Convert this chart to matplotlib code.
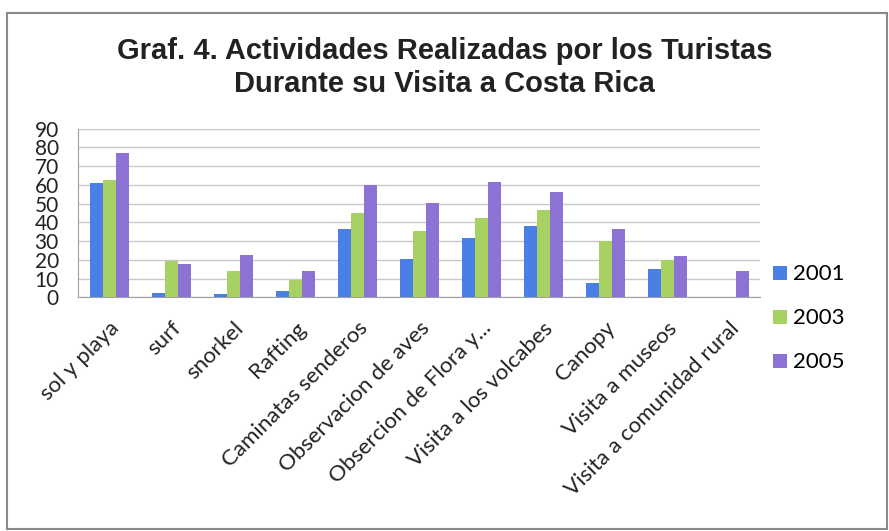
import matplotlib
matplotlib.use("Agg")
import matplotlib.pyplot as plt
import numpy as np
from matplotlib.patches import Rectangle

categorias = ["sol y playa", "surf", "snorkel", "Rafting", "Caminatas senderos",
              "Observacion de aves", "Obsercion de Flora y...", "Visita a los volcabes",
              "Canopy", "Visita a museos", "Visita a comunidad rural"]
v2001 = [61, 2.3, 1.8, 3.6, 36.7, 20.5, 31.7, 38.3, 7.7, 15.2, 0]
v2003 = [62.4, 19.6, 14.3, 9.4, 45.1, 35.3, 42.4, 46.3, 30.3, 20.1, 0]
v2005 = [77.2, 17.8, 22.8, 14.3, 59.7, 50.1, 61.7, 56.3, 36.5, 22.3, 14.3]
anios = ["2001", "2003", "2005"]
colores = ["#4a7fe6", "#a8d163", "#8c72d4"]
fuente = ["Lato", "DejaVu Sans"]

fig = plt.figure(figsize=(8.89, 5.31), dpi=100)
fig.patches.append(Rectangle((0.008, 0.004), 0.99, 0.972, transform=fig.transFigure,
                             fill=False, edgecolor="#8a8a8a", linewidth=1.5))

ax = fig.add_axes([0.088, 0.44, 0.767, 0.318])
x = np.arange(len(categorias))
w = 0.21
for i, (serie, c) in enumerate(zip([v2001, v2003, v2005], colores)):
    ax.bar(x + (i - 1) * w, serie, w, color=c, label=anios[i], zorder=3)

ax.set_xlim(-0.5, len(categorias) - 0.5)
ax.set_ylim(0, 90)
ax.set_yticks(range(0, 91, 10))
ax.grid(axis="y", color="#c8c8c8", linewidth=1, zorder=0)
for s in ["top", "right"]:
    ax.spines[s].set_visible(False)
ax.spines["left"].set_color("#a0a0a0")
ax.spines["bottom"].set_color("#a0a0a0")
ax.tick_params(axis="both", length=0, colors="#222222")
ax.tick_params(axis="y", labelsize=15, pad=14)
ax.tick_params(axis="x", labelsize=16, pad=15)
ax.set_xticks(x)
ax.set_xticklabels(categorias, rotation=45, ha="right", va="top",
                   rotation_mode="anchor", family=fuente)
for t in ax.get_yticklabels():
    t.set_family(fuente)

leg = ax.legend(loc="center left", bbox_to_anchor=(0.99, -0.125), frameon=False,
                prop={"family": fuente, "size": 16},
                handlelength=0.6, handleheight=0.6, handletextpad=0.3,
                labelspacing=1.08)

fig.text(0.5, 0.873, "Graf. 4. Actividades Realizadas por los Turistas\nDurante su Visita a Costa Rica",
         ha="center", va="center", fontsize=21, fontweight="bold", linespacing=1.2,
         family=["Liberation Sans", "DejaVu Sans"], color="#222222")

fig.savefig("out.png", dpi=100)
